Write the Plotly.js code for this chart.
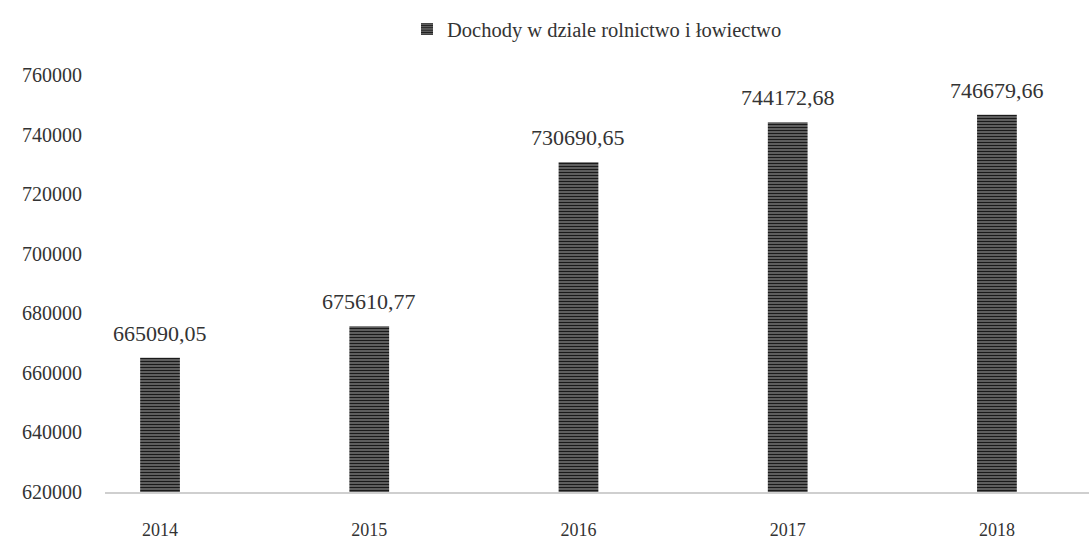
<!DOCTYPE html>
<html>
<head>
<meta charset="utf-8">
<script src="https://cdn.plot.ly/plotly-3.0.1.min.js"></script>
<style>html,body{margin:0;padding:0;background:#fff;}#chart{width:1089px;height:550px;}</style>
</head>
<body>
<div id="chart"></div>
<script>
const years = ['2014', '2015', '2016', '2017', '2018'];
const values = [665090.05, 675610.77, 730690.65, 744172.68, 746679.66];
const valueLabels = ['665090,05', '675610,77', '730690,65', '744172,68', '746679,66'];
const seriesName = 'Dochody w dziale rolnictwo i łowiectwo';
const yTicks = [620000, 640000, 660000, 680000, 700000, 720000, 740000, 760000];

const FONT = 'Liberation Serif';
const TXT = '#333';

const trace = {
  type: 'bar',
  x: years,
  y: values,
  name: seriesName,
  width: 0.19,
  marker: {
    color: '#555',
    pattern: {shape: '-', fgcolor: '#1a1a1a', bgcolor: '#b0b0b0', size: 3, solidity: 0.7, fillmode: 'replace'},
    line: {width: 0}
  },
  showlegend: true,
  hoverinfo: 'skip'
};

const annotations = years.map((yr, i) => ({
  x: i, y: values[i], xref: 'x', yref: 'y',
  text: valueLabels[i], showarrow: false,
  yanchor: 'bottom', yshift: 10,
  font: {family: FONT, size: 22, color: TXT}
}));

const layout = {
  width: 1089, height: 550,
  margin: {l: 105, r: 0, t: 75, b: 58},
  paper_bgcolor: '#fff', plot_bgcolor: '#fff',
  font: {family: FONT, color: TXT},
  showlegend: true,
  legend: {
    orientation: 'h', x: 0.5, xanchor: 'center', y: 1.11, yanchor: 'middle',
    font: {family: FONT, size: 20.5, color: TXT}
  },
  xaxis: {
    type: 'category',
    range: [-0.263, 4.44],
    showline: true, linecolor: '#cfcfcf', linewidth: 2,
    showgrid: false, zeroline: false,
    ticks: '', ticklabelstandoff: 20,
    tickfont: {family: FONT, size: 18, color: TXT}
  },
  yaxis: {
    range: [620000, 760000],
    tickvals: yTicks,
    ticktext: yTicks.map(String),
    showline: false, showgrid: false, zeroline: false,
    ticks: '', ticklabelstandoff: 22,
    tickfont: {family: FONT, size: 20, color: TXT}
  },
  annotations: annotations
};

Plotly.newPlot('chart', [trace], layout, {displayModeBar: false, staticPlot: true});
</script>
</body>
</html>
